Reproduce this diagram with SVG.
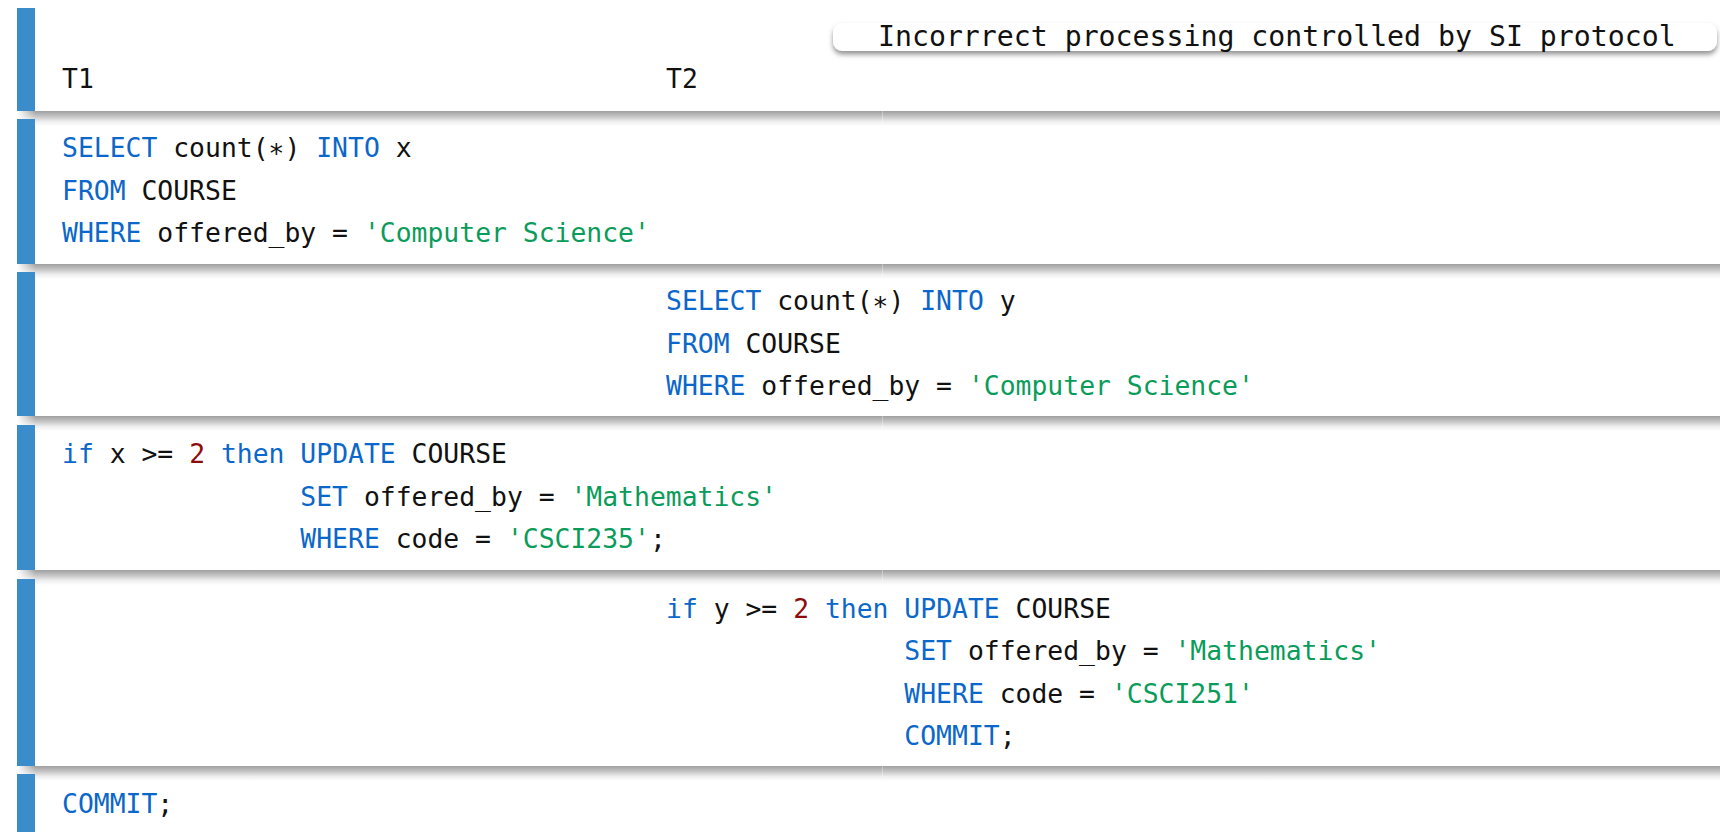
<svg xmlns="http://www.w3.org/2000/svg" width="1720" height="832" viewBox="0 0 1720 832">
  <defs>
    <style>
      .code { font-family: "DejaVu Sans Mono", "Liberation Mono", monospace; font-size: 26.4px; fill: #111; white-space: pre; }
      .kw { fill: #0b67c9; }
      .str { fill: #0a9c5a; }
      .num { fill: #8e0b0b; }
      .bar { fill: #3a8cca; }
      .shade { fill: url(#shadeV); mask: url(#fadeLeft); }
      .seam { fill: #ffffff; opacity: 0.35; }
      .title { font-family: "DejaVu Sans Mono", "Liberation Mono", monospace; font-size: 28.2px; fill: #111; }
    </style>
    <linearGradient id="shadeV" x1="0" y1="0" x2="0" y2="1">
      <stop offset="0" stop-color="#9f9f9f"/>
      <stop offset="0.35" stop-color="#c4c4c4"/>
      <stop offset="0.7" stop-color="#eeeeee"/>
      <stop offset="1" stop-color="#ffffff"/>
    </linearGradient>
    <linearGradient id="fadeH" x1="0" y1="0" x2="1" y2="0">
      <stop offset="0" stop-color="#000"/>
      <stop offset="0.011" stop-color="#fff"/>
      <stop offset="1" stop-color="#fff"/>
    </linearGradient>
    <mask id="fadeLeft" maskContentUnits="objectBoundingBox">
      <rect x="0" y="0" width="1" height="1" fill="url(#fadeH)"/>
    </mask>
    <filter id="boxShadow" x="-5%" y="-50%" width="110%" height="220%">
      <feDropShadow dx="0" dy="3.5" stdDeviation="2.5" flood-color="#707070" flood-opacity="0.75"/>
    </filter>
  </defs>

  <rect width="1720" height="832" fill="#ffffff"/>

  <!-- shadows under each step row -->
  <g id="row-shadows">
    <rect class="shade" x="17" y="111" width="1703" height="15"/>
    <rect class="shade" x="17" y="264" width="1703" height="15"/>
    <rect class="shade" x="17" y="416" width="1703" height="15"/>
    <rect class="shade" x="17" y="570" width="1703" height="15"/>
    <rect class="shade" x="17" y="766" width="1703" height="15"/>
    <rect class="seam" x="882" y="111" width="1" height="12"/>
    <rect class="seam" x="882" y="264" width="1" height="12"/>
    <rect class="seam" x="882" y="416" width="1" height="12"/>
    <rect class="seam" x="882" y="570" width="1" height="12"/>
    <rect class="seam" x="882" y="766" width="1" height="12"/>
  </g>

  <!-- header row -->
  <g id="header">
    <rect class="bar" x="17" y="8" width="18" height="103"/>
    <text class="code" x="62" y="88">T1</text>
    <text class="code" x="666" y="88">T2</text>
  </g>

  <!-- caption box -->
  <g id="caption">
    <rect x="833" y="23" width="884" height="28" rx="9" fill="#ffffff" filter="url(#boxShadow)"/>
    <text class="title" x="878" y="45.5">Incorrrect processing controlled by SI protocol</text>
  </g>

  <!-- step 1: T1 reads -->
  <g id="step1">
    <rect class="bar" x="17" y="119" width="18" height="145"/>
    <text class="code" x="62" y="157"><tspan class="kw">SELECT</tspan> count(∗) <tspan class="kw">INTO</tspan> x</text>
    <text class="code" x="62" y="199.5"><tspan class="kw">FROM</tspan> COURSE</text>
    <text class="code" x="62" y="242"><tspan class="kw">WHERE</tspan> offered_by = <tspan class="str">'Computer Science'</tspan></text>
  </g>

  <!-- step 2: T2 reads -->
  <g id="step2">
    <rect class="bar" x="17" y="272" width="18" height="144"/>
    <text class="code" x="666" y="310"><tspan class="kw">SELECT</tspan> count(∗) <tspan class="kw">INTO</tspan> y</text>
    <text class="code" x="666" y="352.5"><tspan class="kw">FROM</tspan> COURSE</text>
    <text class="code" x="666" y="395"><tspan class="kw">WHERE</tspan> offered_by = <tspan class="str">'Computer Science'</tspan></text>
  </g>

  <!-- step 3: T1 updates -->
  <g id="step3">
    <rect class="bar" x="17" y="425" width="18" height="145"/>
    <text class="code" x="62" y="463"><tspan class="kw">if</tspan> x &gt;= <tspan class="num">2</tspan> <tspan class="kw">then</tspan> <tspan class="kw">UPDATE</tspan> COURSE</text>
    <text class="code" x="62" y="505.5">               <tspan class="kw">SET</tspan> offered_by = <tspan class="str">'Mathematics'</tspan></text>
    <text class="code" x="62" y="548">               <tspan class="kw">WHERE</tspan> code = <tspan class="str">'CSCI235'</tspan>;</text>
  </g>

  <!-- step 4: T2 updates and commits -->
  <g id="step4">
    <rect class="bar" x="17" y="579" width="18" height="187"/>
    <text class="code" x="666" y="617.5"><tspan class="kw">if</tspan> y &gt;= <tspan class="num">2</tspan> <tspan class="kw">then</tspan> <tspan class="kw">UPDATE</tspan> COURSE</text>
    <text class="code" x="666" y="660">               <tspan class="kw">SET</tspan> offered_by = <tspan class="str">'Mathematics'</tspan></text>
    <text class="code" x="666" y="702.5">               <tspan class="kw">WHERE</tspan> code = <tspan class="str">'CSCI251'</tspan></text>
    <text class="code" x="666" y="745">               <tspan class="kw">COMMIT</tspan>;</text>
  </g>

  <!-- step 5: T1 commits -->
  <g id="step5">
    <rect class="bar" x="17" y="774" width="18" height="70"/>
    <text class="code" x="62" y="812.5"><tspan class="kw">COMMIT</tspan>;</text>
  </g>
</svg>
